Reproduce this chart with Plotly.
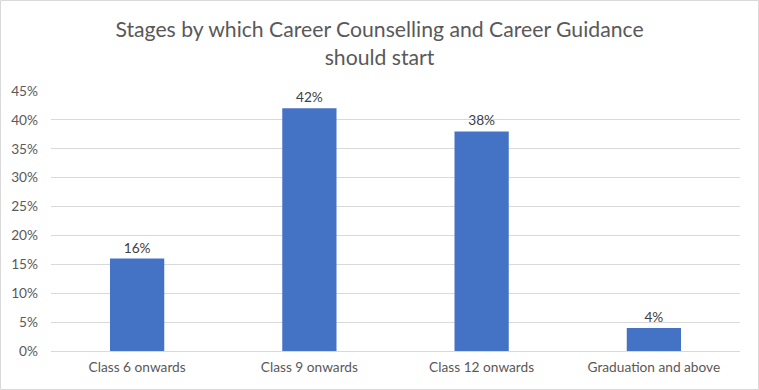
import plotly.graph_objects as go

categories = ["Class 6 onwards", "Class 9 onwards", "Class 12 onwards", "Graduation and above"]
values = [0.16, 0.42, 0.38, 0.04]
tick_vals = [0, 0.05, 0.10, 0.15, 0.20, 0.25, 0.30, 0.35, 0.40, 0.45]
tick_text = ["0%", "5%", "10%", "15%", "20%", "25%", "30%", "35%", "40%", "45%"]
labels = [f"{round(v*100)}%" for v in values]

W, H = 759, 390
L, R, T, B = 51, 19, 91, 39
pw, ph = W - L - R, H - T - B

fig = go.Figure(go.Bar(
    x=categories, y=values, text=labels, textposition="outside",
    marker=dict(color="#4472C4", line=dict(width=0)),
    textfont=dict(size=13.7, color="#404040", family="Lato"),
    cliponaxis=False, hoverinfo="skip",
))

fig.update_layout(
    width=W, height=H,
    margin=dict(l=L, r=R, t=T, b=B),
    paper_bgcolor="white", plot_bgcolor="white",
    font=dict(family="Lato", color="#595959", size=13.7),
    title=dict(text="Stages by which Career Counselling and Career Guidance<br>should start",
               x=0.5, xanchor="center", xref="paper", y=1 - 37/H, yanchor="middle",
               font=dict(size=21.2, color="#595959", family="Lato")),
    bargap=0.685,
    showlegend=False,
    xaxis=dict(showgrid=False, showline=False, ticks="", ticklabelstandoff=6,
               tickfont=dict(size=13.7, color="#595959")),
    yaxis=dict(range=[0, 0.45], tickvals=tick_vals, ticktext=tick_text,
               showgrid=True, gridcolor="#d9d9d9", gridwidth=1, zeroline=True,
               zerolinecolor="#d9d9d9", zerolinewidth=1, showline=False, ticks="",
               ticklabelstandoff=12, tickfont=dict(size=13.7, color="#595959")),
    shapes=[dict(type="rect", xref="paper", yref="paper",
                 x0=-(L - 0.5)/pw, x1=1 + (R - 0.5)/pw,
                 y0=-(B - 0.5)/ph, y1=1 + (T - 0.5)/ph,
                 line=dict(color="#d9d9d9", width=1), layer="below")],
)
fig.layout.title.xref = "container"

fig.write_html("out.html", config={"displayModeBar": False},
               post_script="document.body.style.margin='0';document.body.style.padding='0';")
